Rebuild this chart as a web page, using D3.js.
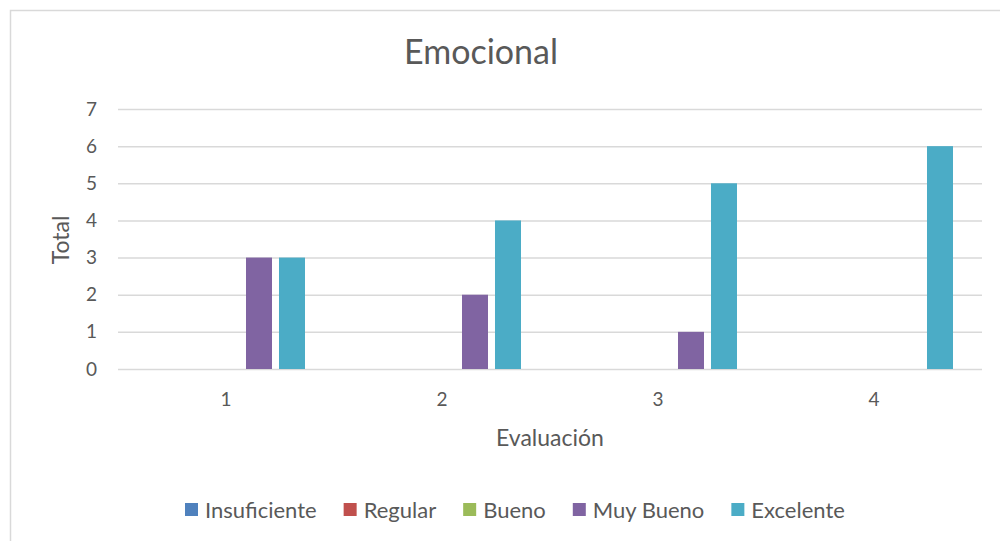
<!DOCTYPE html>
<html>
<head>
<meta charset="utf-8">
<script src="https://cdn.jsdelivr.net/npm/d3@7"></script>
<style>
  body { margin: 0; background: #fff; }
  text { font-family: Lato, "Open Sans", sans-serif; fill: #595959; }
</style>
</head>
<body>
<script>
// data
var categories = ["1", "2", "3", "4"];
var series = ["Insuficiente", "Regular", "Bueno", "Muy Bueno", "Excelente"];
var insuficiente = [0, 0, 0, 0];
var regular = [0, 0, 0, 0];
var bueno = [0, 0, 0, 0];
var muyBueno = [3, 2, 1, 0];
var excelente = [3, 4, 5, 6];
var yTicks = [0, 1, 2, 3, 4, 5, 6, 7];
var colors = ["#4F81BD", "#C0504D", "#9BBB59", "#8064A2", "#4BACC6"];

var WIDTH = 1000, HEIGHT = 541;
var plot = { left: 118, right: 982, top: 109, bottom: 369 };

var values = [insuficiente, regular, bueno, muyBueno, excelente];

var svg = d3.select("body").append("svg")
  .attr("width", WIDTH)
  .attr("height", HEIGHT);

// chart area border
svg.append("rect")
  .attr("x", 10.5).attr("y", 10.5)
  .attr("width", 1000).attr("height", 600)
  .style("fill", "#fff")
  .style("stroke", "#D9D9D9")
  .style("stroke-width", 1.5);

var x0 = d3.scaleBand().domain(categories).range([plot.left, plot.right]);
var x1 = d3.scaleBand().domain(series).range([0, x0.bandwidth()])
  .paddingInner(0.212).paddingOuter(0.879);
var y = d3.scaleLinear().domain([0, 7]).range([plot.bottom, plot.top]);

// gridlines + y labels
var yAxis = svg.append("g")
  .attr("transform", "translate(" + plot.left + ",0)")
  .call(d3.axisLeft(y).tickValues(yTicks).tickFormat(d3.format("d"))
    .tickSize(-(plot.right - plot.left)).tickPadding(0));
yAxis.select(".domain").remove();
yAxis.selectAll("line").style("stroke", "#D9D9D9").style("stroke-width", 1.5);
yAxis.selectAll("text")
  .attr("x", -21)
  .style("font-size", "19px")
  .style("font-family", "Lato, sans-serif")
  .style("fill", "#595959");

// bars
var rows = [];
categories.forEach(function(c, i) {
  series.forEach(function(s, j) {
    rows.push({ cat: c, ser: s, val: values[j][i], color: colors[j] });
  });
});
svg.append("g").selectAll("rect")
  .data(rows.filter(function(d) { return d.val > 0; }))
  .enter().append("rect")
    .attr("x", function(d) { return x0(d.cat) + x1(d.ser); })
    .attr("width", x1.bandwidth())
    .attr("y", function(d) { return y(d.val); })
    .attr("height", function(d) { return y(0) - y(d.val); })
    .style("fill", function(d) { return d.color; });

// x labels
var xAxis = svg.append("g")
  .attr("transform", "translate(0," + plot.bottom + ")")
  .call(d3.axisBottom(x0).tickSize(0).tickPadding(0));
xAxis.select(".domain").remove();
xAxis.selectAll("text")
  .attr("dy", null)
  .attr("y", 37)
  .style("font-size", "19px")
  .style("font-family", "Lato, sans-serif")
  .style("fill", "#595959");

// title
svg.append("text")
  .attr("x", 481).attr("y", 64)
  .attr("text-anchor", "middle")
  .style("font-size", "34px")
  .text("Emocional");

// axis titles
svg.append("text")
  .attr("transform", "translate(69,240) rotate(-90)")
  .attr("text-anchor", "middle")
  .style("font-size", "23px")
  .text("Total");

svg.append("text")
  .attr("x", (plot.left + plot.right) / 2).attr("y", 446)
  .attr("text-anchor", "middle")
  .style("font-size", "23px")
  .text("Evaluación");

// legend
var legend = svg.append("g").attr("transform", "translate(185,510)");
var lx = 0;
series.forEach(function(s, i) {
  var item = legend.append("g").attr("transform", "translate(" + lx + ",0)");
  item.append("rect")
    .attr("x", 0).attr("y", -7)
    .attr("width", 13).attr("height", 13)
    .style("fill", colors[i]);
  var t = item.append("text")
    .attr("x", 20).attr("y", 0)
    .attr("dy", "0.35em")
    .style("font-size", "22px")
    .text(s);
  lx += 20 + t.node().getComputedTextLength() + 27;
});
</script>
</body>
</html>
